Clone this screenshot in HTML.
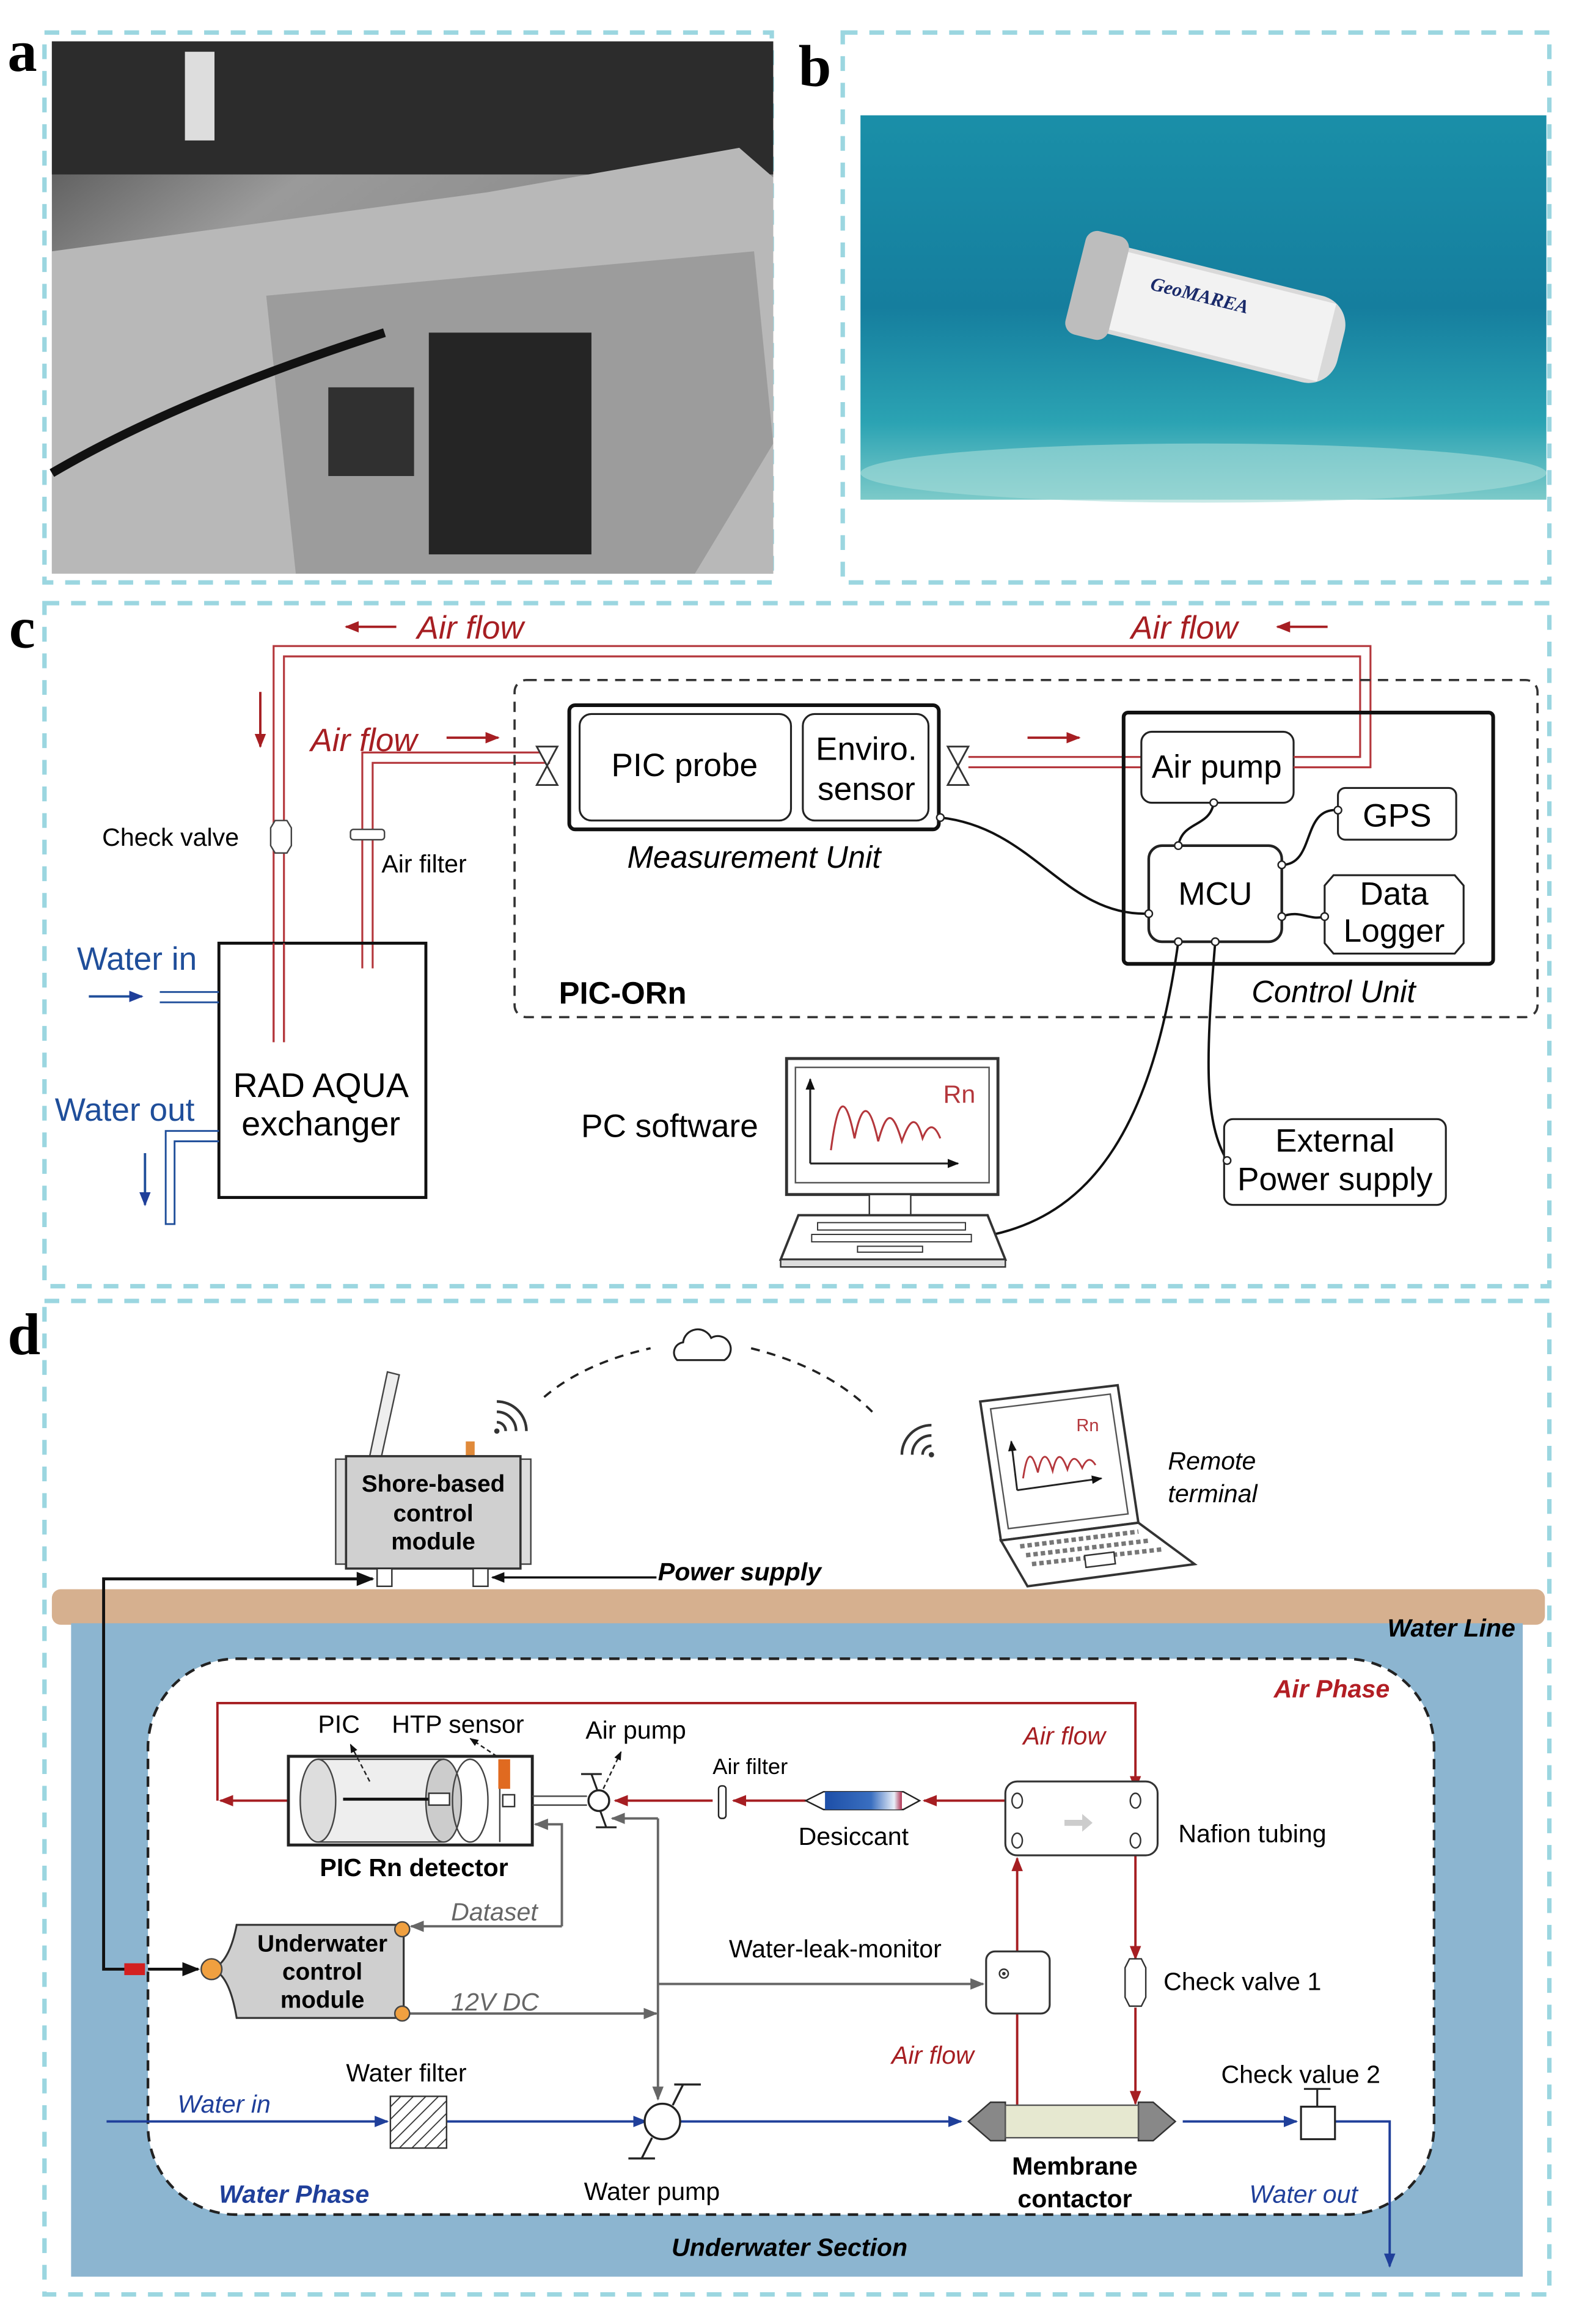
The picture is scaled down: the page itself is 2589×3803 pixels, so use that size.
<!DOCTYPE html>
<html><head><meta charset="utf-8">
<style>
html,body{margin:0;padding:0;background:#fff;}
svg{display:block;}
text{font-family:"Liberation Sans",sans-serif;}
text.serif{font-family:"Liberation Serif",serif;}
</style></head>
<body>
<svg width="2589" height="3803" viewBox="0 0 1070 1572" xmlns="http://www.w3.org/2000/svg">
<defs>
<marker id="ar" viewBox="0 0 10 10" refX="9" refY="5" markerWidth="6" markerHeight="6" orient="auto-start-reverse"><path d="M0,1 L10,5 L0,9 z" fill="#a61e22"/></marker>
<marker id="ag" viewBox="0 0 10 10" refX="9" refY="5" markerWidth="6" markerHeight="6" orient="auto-start-reverse"><path d="M0,1 L10,5 L0,9 z" fill="#666"/></marker>
<marker id="ab" viewBox="0 0 10 10" refX="9" refY="5" markerWidth="6" markerHeight="6" orient="auto-start-reverse"><path d="M0,1 L10,5 L0,9 z" fill="#1f3f9a"/></marker>
<marker id="ak" viewBox="0 0 10 10" refX="9" refY="5" markerWidth="6" markerHeight="6" orient="auto-start-reverse"><path d="M0,1 L10,5 L0,9 z" fill="#111"/></marker>
<linearGradient id="sea" x1="0" y1="0" x2="0" y2="1">
<stop offset="0" stop-color="#1a8fa8"/><stop offset="0.5" stop-color="#157e9e"/><stop offset="0.8" stop-color="#2ba3b3"/><stop offset="1" stop-color="#7ccac9"/></linearGradient>
<linearGradient id="photo" x1="0" y1="0" x2="1" y2="1">
<stop offset="0" stop-color="#3a3a3a"/><stop offset="0.3" stop-color="#9a9a9a"/><stop offset="0.6" stop-color="#8a8a8a"/><stop offset="1" stop-color="#555"/></linearGradient>
<linearGradient id="des" x1="0" x2="1"><stop offset="0" stop-color="#1d4fa8"/><stop offset="0.6" stop-color="#3a6fc0"/><stop offset="0.9" stop-color="#e8eef8"/><stop offset="1" stop-color="#b03050"/></linearGradient>
<pattern id="hatch" width="6" height="6" patternUnits="userSpaceOnUse" patternTransform="rotate(45)"><line x1="0" y1="0" x2="0" y2="6" stroke="#333" stroke-width="1.5"/></pattern>
</defs>

<g fill="none" stroke="#9bd6e0" stroke-width="3" stroke-dasharray="10,8">
<rect x="30" y="22" width="492" height="372"/>
<rect x="570" y="22" width="478" height="372"/>
<rect x="30" y="408" width="1018" height="462"/>
<rect x="30" y="880" width="1018" height="672"/>
</g>
<text class="serif" x="5" y="48" font-weight="bold" font-size="40">a</text>
<text class="serif" x="540" y="58" font-weight="bold" font-size="40">b</text>
<text class="serif" x="6" y="438" font-weight="bold" font-size="40">c</text>
<text class="serif" x="5" y="916" font-weight="bold" font-size="40">d</text>

<!-- photo a -->
<rect x="35" y="28" width="488" height="360" fill="url(#photo)"/>
<rect x="35" y="28" width="488" height="90" fill="#2c2c2c"/>
<path d="M35,170 L330,130 L500,100 L523,120 L523,388 L35,388z" fill="#b8b8b8"/>
<path d="M180,200 L510,170 L523,300 L470,388 L200,388 z" fill="#9c9c9c"/>
<rect x="290" y="225" width="110" height="150" fill="#252525"/>
<rect x="222" y="262" width="58" height="60" fill="#303030"/>
<rect x="125" y="35" width="20" height="60" fill="#ddd"/>
<path d="M35,320 Q120,270 260,225" stroke="#111" stroke-width="6" fill="none"/>

<!-- photo b -->
<rect x="582" y="78" width="464" height="260" fill="url(#sea)"/>
<ellipse cx="814" cy="320" rx="232" ry="20" fill="#a7dcd8" opacity="0.6"/>
<g transform="rotate(14 810 210)">
<rect x="725" y="180" width="185" height="60" rx="20" fill="#d9d9d9"/>
<rect x="755" y="183" width="145" height="54" fill="#f2f2f2"/>
<rect x="725" y="174" width="30" height="72" rx="8" fill="#bdbdbd"/>
<text class="serif" x="775" y="204" font-style="italic" font-weight="bold" font-size="13" fill="#1a2a6a">GeoMAREA</text>
</g>

<!-- ===== panel c ===== -->
<g fill="none" stroke="#b4373c" stroke-width="1.3">
<path d="M185,705 V437 H927 V519 H875"/>
<path d="M192,705 V444 H920 V512 H875"/>
<path d="M245,655 V509 H372"/>
<path d="M252,655 V516 H372"/>
<path d="M655,512 H775 M655,519 H775"/>
</g>
<g stroke="#a61e22" stroke-width="1.6" fill="none">
<line x1="268" y1="424" x2="234" y2="424" marker-end="url(#ar)"/>
<line x1="898" y1="424" x2="864" y2="424" marker-end="url(#ar)"/>
<line x1="176" y1="468" x2="176" y2="505" marker-end="url(#ar)"/>
<line x1="302" y1="499" x2="337" y2="499" marker-end="url(#ar)"/>
<line x1="695" y1="499" x2="730" y2="499" marker-end="url(#ar)"/>
</g>
<g font-size="22" fill="#a61e22">
<text x="282" y="432" font-style="italic">Air flow</text>
<text x="765" y="432" font-style="italic">Air flow</text>
<text x="210" y="508" font-style="italic">Air flow</text>
</g>
<path d="M186,555 h8 l3,5 v12 l-3,5 h-8 l-3,-5 v-12z" fill="#fff" stroke="#444"/>
<rect x="237" y="561" width="23" height="7" rx="2" fill="#fff" stroke="#444"/>
<text x="69" y="572" font-size="17">Check valve</text>
<text x="258" y="590" font-size="17">Air filter</text>
<g fill="#fff" stroke="#333" stroke-width="1.2">
<path d="M363,505 L377,505 L363,531 L377,531z"/>
<path d="M641,505 L655,505 L641,531 L655,531z"/>
</g>
<rect x="348" y="460" width="692" height="228" rx="8" fill="none" stroke="#333" stroke-width="1.5" stroke-dasharray="7,5"/>
<rect x="385" y="477" width="250" height="84" rx="4" fill="#fff" stroke="#111" stroke-width="2.5"/>
<rect x="392" y="483" width="143" height="72" rx="8" fill="none" stroke="#222" stroke-width="1.3"/>
<rect x="543" y="483" width="85" height="72" rx="8" fill="none" stroke="#222" stroke-width="1.3"/>
<text x="463" y="525" font-size="22" text-anchor="middle">PIC probe</text>
<text x="586" y="514" font-size="22" text-anchor="middle">Enviro.</text>
<text x="586" y="541" font-size="22" text-anchor="middle">sensor</text>
<text x="510" y="587" font-size="21" text-anchor="middle" font-style="italic">Measurement Unit</text>
<rect x="760" y="482" width="250" height="170" rx="3" fill="none" stroke="#111" stroke-width="2.5"/>
<rect x="772" y="495" width="103" height="48" rx="7" fill="#fff" stroke="#222" stroke-width="1.3"/>
<rect x="905" y="533" width="80" height="35" rx="5" fill="#fff" stroke="#222" stroke-width="1.3"/>
<rect x="777" y="572" width="90" height="65" rx="9" fill="#fff" stroke="#222" stroke-width="1.8"/>
<path d="M902,592 H984 l6,7 V638 l-6,7 H902 l-6,-7 V599z" fill="#fff" stroke="#222" stroke-width="1.3"/>
<path d="M875,512 H920 M875,519 H927" stroke="#b4373c" stroke-width="1.3"/>
<text x="823" y="526" font-size="22" text-anchor="middle">Air pump</text>
<text x="945" y="559" font-size="22" text-anchor="middle">GPS</text>
<text x="822" y="612" font-size="22" text-anchor="middle">MCU</text>
<text x="943" y="612" font-size="22" text-anchor="middle">Data</text>
<text x="943" y="637" font-size="22" text-anchor="middle">Logger</text>
<text x="902" y="678" font-size="21" text-anchor="middle" font-style="italic">Control Unit</text>
<text x="378" y="679" font-size="21" font-weight="bold">PIC-ORn</text>
<g fill="none" stroke="#111" stroke-width="1.6">
<path d="M636,553 C700,560 720,620 777,618"/>
<path d="M821,543 C818,560 800,555 797,572"/>
<path d="M867,585 C890,585 880,546 905,548"/>
<path d="M867,620 C880,615 885,623 896,620"/>
<path d="M797,637 C780,760 740,820 672,835"/>
<path d="M822,637 C815,720 815,760 830,785"/>
</g>
<g fill="#fff" stroke="#222" stroke-width="1"><circle cx="636" cy="553" r="2.5"/><circle cx="821" cy="543" r="2.5"/><circle cx="797" cy="572" r="2.5"/><circle cx="867" cy="585" r="2.5"/><circle cx="905" cy="548" r="2.5"/><circle cx="867" cy="620" r="2.5"/><circle cx="896" cy="620" r="2.5"/><circle cx="777" cy="618" r="2.5"/><circle cx="797" cy="637" r="2.5"/><circle cx="822" cy="637" r="2.5"/></g>
<path d="M148,638 H288 V810 H148z" fill="none" stroke="#111" stroke-width="2"/>
<path d="M185,638 V705 M192,638 V705" stroke="#b4373c" stroke-width="1.3"/>
<text x="217" y="742" font-size="23" text-anchor="middle">RAD AQUA</text>
<text x="217" y="768" font-size="23" text-anchor="middle">exchanger</text>
<text x="52" y="656" font-size="22" fill="#1f4e9a">Water in</text>
<line x1="60" y1="674" x2="96" y2="674" stroke="#1f4e9a" stroke-width="1.6" marker-end="url(#ab)"/>
<path d="M108,671 H148 M108,678 H148" stroke="#1f4e9a" stroke-width="1.2"/>
<text x="37" y="758" font-size="22" fill="#1f4e9a">Water out</text>
<path d="M148,765 H112 V828 H118 V772 H148" fill="none" stroke="#1f4e9a" stroke-width="1.2"/>
<line x1="98" y1="780" x2="98" y2="815" stroke="#1f4e9a" stroke-width="1.6" marker-end="url(#ab)"/>
<text x="393" y="769" font-size="22">PC  software</text>
<rect x="532" y="716" width="143" height="92" fill="#fff" stroke="#333" stroke-width="2"/>
<rect x="538" y="722" width="131" height="78" fill="none" stroke="#555"/>
<line x1="548" y1="787" x2="648" y2="787" stroke="#222" stroke-width="1.3" marker-end="url(#ak)"/>
<line x1="548" y1="787" x2="548" y2="730" stroke="#222" stroke-width="1.3" marker-end="url(#ak)"/>
<path d="M562,778 C567,740 572,740 578,770 C583,745 588,745 594,772 C600,750 604,752 610,772 C616,755 620,755 624,770 C628,760 632,760 636,770" fill="none" stroke="#b4373c" stroke-width="1.3"/>
<text x="638" y="746" font-size="17" fill="#b4373c">Rn</text>
<rect x="588" y="808" width="28" height="14" fill="#fff" stroke="#333"/>
<path d="M540,822 H668 L680,852 H528z" fill="#fff" stroke="#333" stroke-width="1.6"/>
<g fill="none" stroke="#333" stroke-width="0.8">
<rect x="553" y="827" width="100" height="5"/><rect x="549" y="835" width="108" height="5"/><rect x="580" y="843" width="44" height="4"/></g>
<rect x="528" y="852" width="152" height="5" fill="#ddd" stroke="#333"/>
<rect x="828" y="757" width="150" height="58" rx="6" fill="#fff" stroke="#222" stroke-width="1.3"/>
<text x="903" y="779" font-size="22" text-anchor="middle">External</text>
<text x="903" y="805" font-size="22" text-anchor="middle">Power supply</text>
<circle cx="830" cy="785" r="2.5" fill="#fff" stroke="#222"/>

<!-- ===== panel d ===== -->
<path d="M368,945 Q395,922 440,912" fill="none" stroke="#222" stroke-width="1.5" stroke-dasharray="6,5"/>
<path d="M508,912 Q560,925 590,955" fill="none" stroke="#222" stroke-width="1.5" stroke-dasharray="6,5"/>
<path d="M458,920 a7,7 0 0 1 4,-12 a10,10 0 0 1 19,-3 a8,8 0 0 1 9,15z" fill="#fff" stroke="#222" stroke-width="1.3"/>
<g fill="none" stroke="#333" stroke-width="1.8">
<path d="M336,962 a6,6 0 0 1 6,6 M336,955 a13,13 0 0 1 13,13 M336,948 a20,20 0 0 1 20,20"/>
<path d="M624,984 A6,6 0 0 1 630,978 M617,984 A13,13 0 0 1 630,971 M610,984 A20,20 0 0 1 630,964"/>
</g>
<circle cx="336" cy="968" r="1.8" fill="#333"/><circle cx="630" cy="984" r="1.8" fill="#333"/>
<path d="M250,985 L262,928 L270,930 L258,985z" fill="#eee" stroke="#444"/>
<rect x="315" y="975" width="6" height="10" fill="#e08a3a"/>
<rect x="227" y="987" width="8" height="71" fill="#ddd" stroke="#444"/>
<rect x="351" y="987" width="8" height="71" fill="#ddd" stroke="#444"/>
<rect x="234" y="985" width="118" height="76" fill="#d0d0d0" stroke="#333" stroke-width="1.5"/>
<text x="293" y="1009" font-size="16" font-weight="bold" text-anchor="middle">Shore-based</text>
<text x="293" y="1029" font-size="16" font-weight="bold" text-anchor="middle">control</text>
<text x="293" y="1048" font-size="16" font-weight="bold" text-anchor="middle">module</text>
<rect x="255" y="1061" width="10" height="12" fill="#fff" stroke="#333"/>
<rect x="320" y="1061" width="10" height="12" fill="#fff" stroke="#333"/>
<line x1="444" y1="1067" x2="333" y2="1067" stroke="#111" stroke-width="1.5" marker-end="url(#ak)"/>
<text x="445" y="1069" font-size="17" font-weight="bold" font-style="italic">Power  supply</text>
<path d="M663,948 L756,937 L770,1030 L677,1042z" fill="#fff" stroke="#333" stroke-width="1.6"/>
<path d="M670,953 L751,943 L763,1024 L682,1034z" fill="none" stroke="#555"/>
<path d="M677,1042 L770,1030 L808,1058 L695,1073z" fill="#fff" stroke="#333" stroke-width="1.6"/>
<g stroke="#777" stroke-width="3" stroke-dasharray="3,2"><line x1="690" y1="1046" x2="770" y2="1036"/><line x1="694" y1="1052" x2="778" y2="1042"/><line x1="698" y1="1058" x2="786" y2="1048"/></g>
<rect x="734" y="1051" width="20" height="8" fill="#fff" stroke="#333" transform="rotate(-7 744 1055)"/>
<line x1="688" y1="1008" x2="745" y2="1000" stroke="#222" stroke-width="1.2" marker-end="url(#ak)"/>
<line x1="688" y1="1008" x2="684" y2="975" stroke="#222" stroke-width="1.2" marker-end="url(#ak)"/>
<path d="M692,1000 C695,980 698,982 702,996 C705,982 708,982 712,995 C715,982 718,983 722,994 C725,984 728,985 732,993 C735,986 738,986 741,991" fill="none" stroke="#b4373c" stroke-width="1.2"/>
<text x="728" y="968" font-size="12" fill="#b4373c">Rn</text>
<text x="790" y="994" font-size="17" font-style="italic">Remote</text>
<text x="790" y="1016" font-size="17" font-style="italic">terminal</text>
<rect x="35" y="1075" width="1010" height="24" rx="6" fill="#d6b08f"/>
<rect x="48" y="1098" width="982" height="442" fill="#8cb5d0"/>
<text x="1025" y="1107" font-size="17" font-weight="bold" font-style="italic" text-anchor="end">Water Line</text>
<rect x="100" y="1122" width="870" height="376" rx="60" fill="#fff" stroke="#222" stroke-width="1.8" stroke-dasharray="7,5"/>
<text x="940" y="1148" font-size="17" font-weight="bold" font-style="italic" text-anchor="end" fill="#b21e24">Air Phase</text>
<text x="534" y="1526" font-size="17" font-weight="bold" font-style="italic" text-anchor="middle">Underwater Section</text>
<path d="M90,1332 H70 V1068 H252" fill="none" stroke="#111" stroke-width="2" marker-end="url(#ak)"/>
<rect x="84" y="1328" width="14" height="8" fill="#d32020"/>
<line x1="100" y1="1332" x2="134" y2="1332" stroke="#111" stroke-width="2" marker-end="url(#ak)"/>
<g fill="none" stroke="#a61e22" stroke-width="1.6">
<path d="M195,1218 H149" marker-end="url(#ar)"/>
<path d="M147,1218 V1152 H768 V1210" marker-end="url(#ar)"/>
<path d="M680,1218 H625" marker-end="url(#ar)"/>
<path d="M545,1218 H496" marker-end="url(#ar)"/>
<path d="M482,1218 H416" marker-end="url(#ar)"/>
<path d="M688,1425 V1257" marker-end="url(#ar)"/>
<path d="M768,1255 V1325" marker-end="url(#ar)"/>
<path d="M768,1358 V1423" marker-end="url(#ar)"/>
</g>
<text x="692" y="1180" font-size="17" font-style="italic" fill="#a61e22">Air flow</text>
<text x="603" y="1396" font-size="17" font-style="italic" fill="#a61e22">Air flow</text>
<rect x="195" y="1188" width="165" height="60" fill="#fff" stroke="#222" stroke-width="2"/>
<path d="M215,1190 H300 V1246 H215" fill="#eee" stroke="#444"/>
<ellipse cx="215" cy="1218" rx="12" ry="28" fill="#ddd" stroke="#444"/>
<ellipse cx="300" cy="1218" rx="12" ry="28" fill="#ccc" stroke="#444"/>
<ellipse cx="318" cy="1218" rx="12" ry="28" fill="none" stroke="#444"/>
<line x1="338" y1="1190" x2="338" y2="1246" stroke="#444"/>
<rect x="337" y="1190" width="8" height="20" fill="#e06a20"/>
<line x1="232" y1="1217" x2="300" y2="1217" stroke="#111" stroke-width="2"/>
<rect x="290" y="1213" width="14" height="8" fill="#fff" stroke="#333"/>
<rect x="340" y="1214" width="8" height="8" fill="#fff" stroke="#333"/>
<line x1="360" y1="1215" x2="397" y2="1215" stroke="#444"/><line x1="360" y1="1221" x2="397" y2="1221" stroke="#444"/>
<text x="280" y="1269" font-size="17" font-weight="bold" text-anchor="middle">PIC Rn detector</text>
<text x="215" y="1172" font-size="17">PIC</text>
<text x="265" y="1172" font-size="17">HTP sensor</text>
<line x1="250" y1="1205" x2="237" y2="1180" stroke="#222" stroke-dasharray="3,2" marker-end="url(#ak)"/>
<line x1="336" y1="1188" x2="318" y2="1176" stroke="#222" stroke-dasharray="3,2" marker-end="url(#ak)"/>
<circle cx="405" cy="1218" r="7" fill="#fff" stroke="#222" stroke-width="1.4"/>
<path d="M393,1200 H407 M400,1200 L404,1211 M406,1225 L410,1236 M403,1236 H417" stroke="#222" stroke-width="1.3"/>
<line x1="408" y1="1210" x2="420" y2="1185" stroke="#222" stroke-dasharray="3,2" marker-end="url(#ak)"/>
<text x="396" y="1176" font-size="17">Air pump</text>
<rect x="486" y="1208" width="5" height="22" rx="2" fill="#fff" stroke="#222"/>
<text x="482" y="1200" font-size="15">Air filter</text>
<path d="M545,1218 L557,1212 H611 L622,1218 L611,1224 H557z" fill="#fff" stroke="#222"/>
<rect x="558" y="1212" width="52" height="12" fill="url(#des)"/>
<text x="540" y="1248" font-size="17">Desiccant</text>
<rect x="680" y="1205" width="103" height="50" rx="8" fill="#fff" stroke="#333" stroke-width="1.3"/>
<g fill="#fff" stroke="#333"><ellipse cx="688" cy="1218" rx="3.5" ry="5"/><ellipse cx="688" cy="1245" rx="3.5" ry="5"/><ellipse cx="768" cy="1218" rx="3.5" ry="5"/><ellipse cx="768" cy="1245" rx="3.5" ry="5"/></g>
<path d="M720,1231 h12 v-4 l7,6 l-7,6 v-4 h-12z" fill="#ccc"/>
<text x="797" y="1246" font-size="17">Nafion tubing</text>
<g fill="none" stroke="#666" stroke-width="1.6">
<path d="M380,1303 V1234 H362" marker-end="url(#ag)"/>
<path d="M380,1303 H278" marker-end="url(#ag)"/>
<path d="M275,1362 H444" marker-end="url(#ag)"/>
<path d="M445,1230 H414" marker-end="url(#ag)"/>
<path d="M445,1230 V1420" marker-end="url(#ag)"/>
<path d="M445,1342 H665" marker-end="url(#ag)"/>
</g>
<text x="305" y="1299" font-size="17" font-style="italic" fill="#666">Dataset</text>
<text x="305" y="1360" font-size="17" font-style="italic" fill="#666">12V DC</text>
<path d="M160,1302 H273 V1365 H160 Q155,1335 143,1332 Q155,1328 160,1302z" fill="#cfcfcf" stroke="#333" stroke-width="1.3"/>
<circle cx="143" cy="1332" r="7" fill="#f0a040" stroke="#444"/>
<circle cx="272" cy="1305" r="5" fill="#f0a040" stroke="#444"/>
<circle cx="272" cy="1362" r="5" fill="#f0a040" stroke="#444"/>
<text x="218" y="1320" font-size="16" font-weight="bold" text-anchor="middle">Underwater</text>
<text x="218" y="1339" font-size="16" font-weight="bold" text-anchor="middle">control</text>
<text x="218" y="1358" font-size="16" font-weight="bold" text-anchor="middle">module</text>
<rect x="667" y="1320" width="43" height="42" rx="6" fill="#fff" stroke="#333" stroke-width="1.3"/>
<circle cx="679" cy="1335" r="3" fill="#fff" stroke="#333"/><circle cx="679" cy="1335" r="1.2" fill="#333"/>
<text x="493" y="1324" font-size="17">Water-leak-monitor</text>
<path d="M764,1325 h8 l3,6 v20 l-3,6 h-8 l-3,-6 v-20z" fill="#fff" stroke="#333"/>
<text x="787" y="1346" font-size="17">Check valve 1</text>
<g fill="none" stroke="#1f3f9a" stroke-width="1.6">
<path d="M72,1435 H262" marker-end="url(#ab)"/>
<path d="M302,1435 H437" marker-end="url(#ab)"/>
<path d="M460,1435 H650" marker-end="url(#ab)"/>
<path d="M800,1435 H877" marker-end="url(#ab)"/>
<path d="M903,1435 H940 V1533" marker-end="url(#ab)"/>
</g>
<rect x="264" y="1418" width="38" height="35" fill="url(#hatch)" stroke="#333"/>
<text x="234" y="1408" font-size="17">Water filter</text>
<text x="120" y="1429" font-size="17" font-style="italic" fill="#1f3f9a">Water in</text>
<circle cx="448" cy="1435" r="12" fill="#fff" stroke="#222" stroke-width="1.4"/>
<path d="M455,1424 L462,1410 M456,1410 H474 M441,1446 L434,1460 M425,1460 H443" stroke="#222" stroke-width="1.4"/>
<text x="395" y="1488" font-size="17">Water pump</text>
<path d="M655,1435 L670,1422 H680 V1448 H670z" fill="#888" stroke="#333"/>
<path d="M795,1435 L780,1422 H770 V1448 H780z" fill="#888" stroke="#333"/>
<rect x="680" y="1424" width="90" height="22" fill="#e6e8d0" stroke="#555"/>
<text x="727" y="1471" font-size="17" font-weight="bold" text-anchor="middle">Membrane</text>
<text x="727" y="1493" font-size="17" font-weight="bold" text-anchor="middle">contactor</text>
<rect x="880" y="1425" width="23" height="22" fill="#fff" stroke="#222" stroke-width="1.3"/>
<path d="M891,1425 V1413 M882,1413 H900" stroke="#222" stroke-width="1.3"/>
<text x="826" y="1409" font-size="17">Check value 2</text>
<text x="148" y="1490" font-size="17" font-weight="bold" font-style="italic" fill="#1f3f9a">Water Phase</text>
<text x="845" y="1490" font-size="17" font-style="italic" fill="#1f3f9a">Water out</text>
</svg>
</body></html>
